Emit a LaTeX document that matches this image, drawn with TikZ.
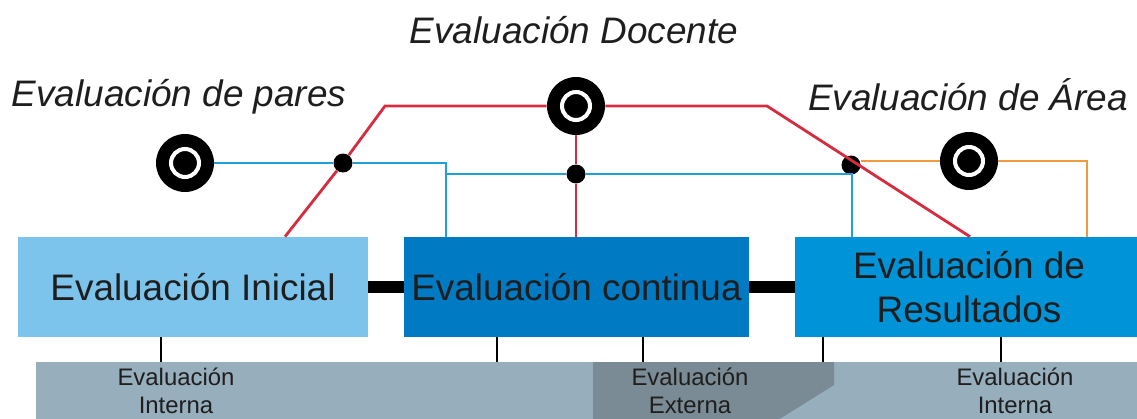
\documentclass[tikz,border=0pt]{standalone}
\usepackage{fontspec}
\setmainfont{Liberation Sans}
\usetikzlibrary{positioning}
\definecolor{inicial}{RGB}{124,196,236}
\definecolor{continua}{RGB}{0,122,195}
\definecolor{resultados}{RGB}{0,147,216}
\definecolor{banda}{RGB}{151,174,189}
\definecolor{externa}{RGB}{122,139,149}
\definecolor{rojo}{RGB}{214,44,64}
\definecolor{celeste}{RGB}{30,160,216}
\definecolor{naranja}{RGB}{238,154,62}
\definecolor{texto}{RGB}{30,30,30}

\begin{document}
\begin{tikzpicture}[x=0.02cm,y=-0.02cm,
    box node/.style={rectangle,minimum height=2cm,inner sep=0pt,align=center,text=texto,font=\fontsize{21}{25.5}\selectfont},
    target node/.style={circle,fill=black,inner sep=0pt,minimum size=1.16cm,
      path picture={\draw[white,line width=2.3pt] (path picture bounding box.center) circle[radius=0.28cm];}},
    small node/.style={circle,fill=black,inner sep=0pt,minimum size=0.38cm},
    title node/.style={anchor=base,text=texto,font=\fontsize{21}{25}\selectfont\itshape},
    sub node/.style={anchor=base,align=center,text=texto,font=\fontsize{13.6}{15.6}\selectfont},
    wire/.style={line width=1.6pt}]
  \useasboundingbox (0,0) rectangle (1137,419);
  \clip (0,0) rectangle (1137,419);
   % franja inferior
   \node[rectangle,fill=banda,anchor=north west,minimum width=22.4cm,minimum height=1.6cm,inner sep=0pt] (banda) at (36,362) {};
   \fill[externa] (593,362) -- (834,362) -- (834,385) -- (762,430) -- (593,430) -- cycle;
   \node[sub node] (intA) at (176,413) {Evaluación\\Interna};
   \node[sub node] (ext) at (690,413) {Evaluación\\Externa};
   \node[sub node] (intB) at (1015,413) {Evaluación\\Interna};
   % cajas
   \node[box node,fill=inicial,minimum width=7cm] (ini) at (193,287) {Evaluación Inicial};
   \node[box node,fill=continua,minimum width=6.9cm] (cont) at (576.5,287) {Evaluación continua};
   \node[box node,fill=resultados,minimum width=6.96cm] (res) at (969,287) {Evaluación de\\Resultados};
   \path[-,line width=6.8pt] (ini) edge (cont);
   \path[-,line width=6.8pt] (cont) edge (res);
   \foreach \b/\x in {ini/161,cont/497,cont/643,res/823,res/1001}
     \path[-,line width=1.3pt] (\b.south -| \x,0) edge (banda.north -| \x,0);
   % tipos de evaluacion
   \node[title node] (tdoc) at (574,43) {Evaluación Docente};
   \node[title node] (tpar) at (179,106) {Evaluación de pares};
   \node[title node] (tarea) at (968,110) {Evaluación de Área};
   \node[target node] (pares) at (185,163) {};
   \node[target node] (doc) at (576,106) {};
   \node[target node] (area) at (969,161) {};
   \node[small node] (dp) at (343,163) {};
   \node[small node] (dc) at (576,174) {};
   \node[small node] (da) at (851,165) {};
   \coordinate (rA) at (385,106);
   \coordinate (rB) at (767,106);
   \coordinate (bB) at (446,174);
   % lineas
   \draw[wire,rojo] (ini.north -| 285,0) -- (dp) -- (rA) -- (doc) -- (rB) -- (res.north -| 970,0);
   \draw[wire,rojo] (doc) -- (dc) -- (cont.north -| dc);
   \draw[wire,celeste] (pares) -- (dp) -| (cont.north -| 446,0);
   \draw[wire,celeste] (bB) -- (dc) -| (res.north -| 852,0);
   \draw[wire,naranja] (da.east |- area) -- (area) -| (res.north -| 1087,0);
  \end{tikzpicture}
\end{document}
